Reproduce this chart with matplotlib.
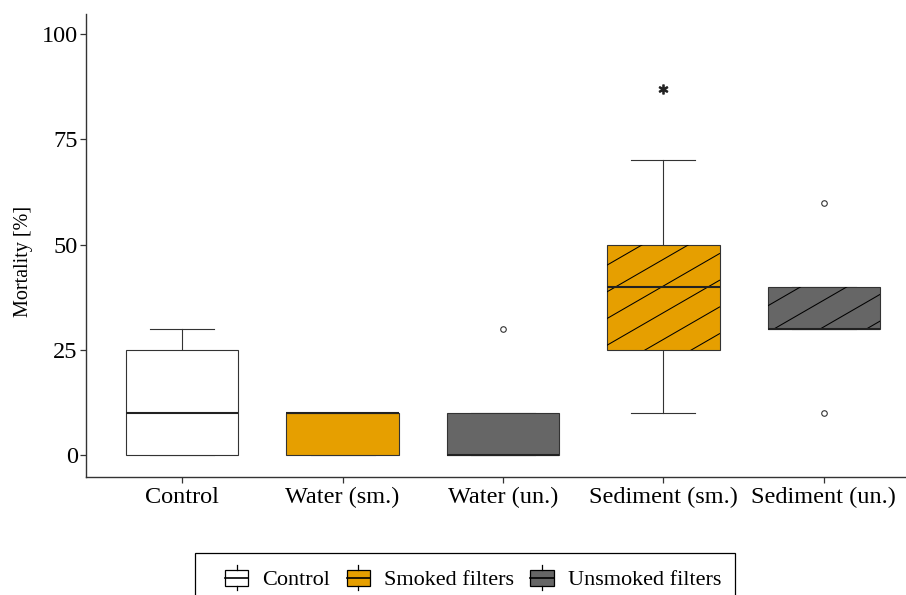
import numpy as np
import matplotlib
matplotlib.use("Agg")
import matplotlib.pyplot as plt
from matplotlib.patches import Rectangle
from matplotlib.lines import Line2D
from matplotlib.legend_handler import HandlerBase

plt.rcParams['font.family'] = ['Liberation Serif', 'DejaVu Serif']

# box summaries per group
groups = ['Control', 'Water (sm.)', 'Water (un.)', 'Sediment (sm.)', 'Sediment (un.)']
q1 = [0, 0, 0, 25, 30]
med = [10, 10, 0, 40, 30]
q3 = [25, 10, 10, 50, 40]
whis_lo = [0, 0, 0, 10, 30]
whis_hi = [30, 10, 10, 70, 40]
outliers = [[], [], [30], [], [10, 60]]
treatment = ['Control', 'Smoked filters', 'Unsmoked filters',
             'Smoked filters', 'Unsmoked filters']
sediment = [False, False, False, True, True]
star_group = 'Sediment (sm.)'
star_y = 87

legend_labels = ['Control', 'Smoked filters', 'Unsmoked filters']
fill = {'Control': 'white', 'Smoked filters': '#E69F00',
        'Unsmoked filters': '#666666'}
edge = '#333333'

fig = plt.figure(figsize=(9.06, 5.95), dpi=100)
W, H = 906, 595
ax = fig.add_axes([86 / W, 1 - 477 / H, (920 - 86) / W, (477 - 14) / H])

pos = np.arange(1, len(groups) + 1)
stats = []
for i, g in enumerate(groups):
    stats.append(dict(label=g, med=med[i], q1=q1[i], q3=q3[i],
                      whislo=whis_lo[i], whishi=whis_hi[i], fliers=outliers[i]))

bp = ax.bxp(stats, positions=pos, widths=0.7, capwidths=0.4, patch_artist=True,
            boxprops=dict(edgecolor=edge, linewidth=0.8),
            whiskerprops=dict(color=edge, linewidth=0.8),
            capprops=dict(color=edge, linewidth=0.8),
            medianprops=dict(color='#222222', linewidth=1.5),
            flierprops=dict(marker='o', markerfacecolor='white',
                            markeredgecolor=edge, markersize=4,
                            markeredgewidth=0.8))
for box, t in zip(bp['boxes'], treatment):
    box.set_facecolor(fill[t])
    box.set_zorder(3)
for m in bp['medians']:
    m.set_zorder(4)

ax.set_xlim(0.4, 5.6)
ax.set_ylim(-5.2, 104.8)
ax.set_yticks([0, 25, 50, 75, 100])
ax.set_xticks(pos)
ax.set_xticklabels(groups)

# diagonal stripes on the sediment boxes
trans = ax.transData
inv = trans.inverted()
slope = np.tan(np.radians(30))
spacing = 26.7
offset = 6.1
for i, box in enumerate(bp['boxes']):
    if not sediment[i]:
        continue
    (x0, y0), (x1, y1) = trans.transform([[pos[i] - 0.35, q1[i]],
                                          [pos[i] + 0.35, q3[i]]])
    kmin = int(np.floor((y0 - slope * x1 - offset) / spacing)) - 1
    kmax = int(np.ceil((y1 - slope * x0 - offset) / spacing)) + 1
    for k in range(kmin, kmax + 1):
        b = offset + k * spacing
        pts = inv.transform([[x0, slope * x0 + b], [x1, slope * x1 + b]])
        ln = Line2D(pts[:, 0], pts[:, 1], color='black', linewidth=0.75,
                    zorder=3.5)
        ln.set_clip_path(box)
        ax.add_line(ln)

ax.plot(groups.index(star_group) + 1, star_y, marker='$\\ast$', color='#222222',
        markersize=6.5, linestyle='none', zorder=5)

for s in ['top', 'right']:
    ax.spines[s].set_visible(False)
for s in ['left', 'bottom']:
    ax.spines[s].set_color(edge)
    ax.spines[s].set_linewidth(1.0)
ax.tick_params(axis='both', colors=edge, length=4, width=0.9,
               labelsize=17.5, labelcolor='black')
ax.tick_params(axis='x', pad=3)
ax.tick_params(axis='y', pad=2)

ax.set_ylabel('Mortality [%]', fontsize=14.5)
ax.yaxis.set_label_coords((33 - 86) / 834, (477 - 261) / 463)


class BoxKey(HandlerBase):
    def create_artists(self, legend, orig_handle, xdescent, ydescent,
                       width, height, fontsize, trans):
        fc = orig_handle.get_facecolor()
        rect = Rectangle((-xdescent, -ydescent), width, height,
                         facecolor=fc, edgecolor='black', linewidth=0.9,
                         transform=trans)
        xm = -xdescent + width / 2
        ym = -ydescent + height / 2
        mid = Line2D([-xdescent, -xdescent + width], [ym, ym],
                     color='black', linewidth=1.2, transform=trans)
        stub = 0.3 * height
        top = Line2D([xm, xm], [-ydescent + height, -ydescent + height + stub],
                     color='black', linewidth=0.9, transform=trans)
        bot = Line2D([xm, xm], [-ydescent - stub, -ydescent],
                     color='black', linewidth=0.9, transform=trans)
        return [rect, mid, top, bot]


handles = [Rectangle((0, 0), 1, 1, facecolor=fill[l]) for l in legend_labels]
leg = fig.legend(handles, legend_labels, loc='center left',
                 bbox_to_anchor=(225 / W, 1 - 580 / H), ncol=3, frameon=False,
                 fontsize=16, handlelength=1.05, handleheight=0.72,
                 handletextpad=0.64, columnspacing=0.73, borderpad=0,
                 borderaxespad=0,
                 handler_map={Rectangle: BoxKey()})
fig.add_artist(Rectangle((195 / W, -0.05), (735 - 195) / W, 0.05 + 1 - 553 / H,
                         transform=fig.transFigure, fill=False,
                         edgecolor='black', linewidth=0.9))

fig.savefig('out.png', dpi=100)
